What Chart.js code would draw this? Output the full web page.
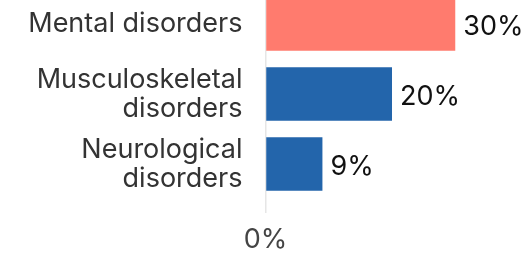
<!DOCTYPE html>
<html>
<head>
<meta charset="utf-8">
<script src="https://cdn.jsdelivr.net/npm/chart.js@4"></script>
<style>
html,body{margin:0;padding:0;background:#fff;}
#wrap{width:528px;height:255px;position:relative;overflow:hidden;}
#c{position:absolute;left:0;top:-11px;}
</style>
</head>
<body>
<div id="wrap"><canvas id="c" width="528" height="266"></canvas></div>
<script>
const categories = [["Mental disorders"], ["Musculoskeletal", "disorders"], ["Neurological", "disorders"]];
const values = [30, 20, 9];
const barColors = ["#FF7B6E", "#2365AB", "#2365AB"];
const xTickValues = [0];

const FONT = "Inter";
const FSIZE = 27;

const valueLabels = {
  id: "valueLabels",
  afterDatasetsDraw(chart) {
    const ctx = chart.ctx;
    const meta = chart.getDatasetMeta(0);
    ctx.save();
    ctx.font = FSIZE + "px " + FONT;
    ctx.fillStyle = "#111111";
    ctx.textAlign = "left";
    ctx.textBaseline = "middle";
    meta.data.forEach((bar, i) => {
      ctx.fillText(values[i] + "%", bar.x + 8, bar.y + 3);
    });
    ctx.restore();
  }
};

function zeroPad(scale) {
  scale.paddingTop = 0; scale.paddingBottom = 0;
  scale.paddingLeft = 0; scale.paddingRight = 0;
}

new Chart(document.getElementById("c"), {
  type: "bar",
  data: {
    labels: categories,
    datasets: [{
      data: values,
      backgroundColor: barColors,
      borderWidth: 0,
      categoryPercentage: 1,
      barPercentage: 0.767
    }]
  },
  options: {
    indexAxis: "y",
    responsive: false,
    animation: false,
    devicePixelRatio: 1,
    layout: { padding: 0 },
    plugins: { legend: { display: false }, tooltip: { enabled: false } },
    scales: {
      x: {
        min: 0,
        max: 41.5,
        afterBuildTicks(scale) { scale.ticks = xTickValues.map(v => ({ value: v })); },
        afterFit(scale) { scale.height = 56; zeroPad(scale); },
        border: { display: false },
        grid: { color: "#e6e6e6", lineWidth: 1.5, tickLength: 14, drawTicks: true },
        ticks: {
          callback: v => v + "%",
          color: "#444444",
          font: { family: FONT, size: FSIZE },
          padding: 11
        }
      },
      y: {
        afterFit(scale) { scale.width = 265.5; zeroPad(scale); },
        border: { display: false },
        grid: { display: false, drawTicks: false },
        ticks: {
          autoSkip: false,
          color: "#333333",
          font: { family: FONT, size: FSIZE, lineHeight: 1.08 },
          padding: 23
        }
      }
    }
  },
  plugins: [valueLabels]
});
</script>
</body>
</html>
